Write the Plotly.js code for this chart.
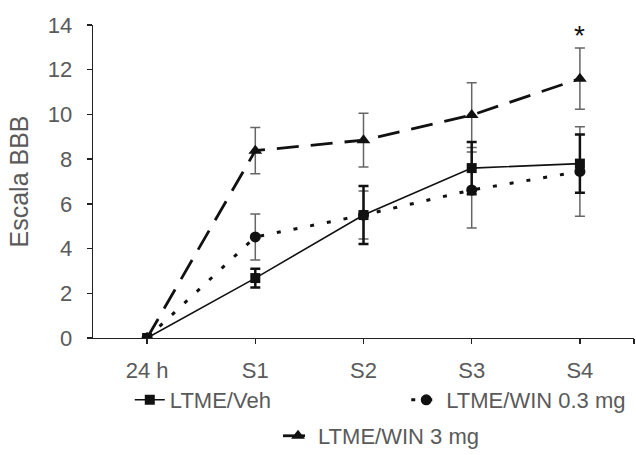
<!DOCTYPE html>
<html>
<head>
<meta charset="utf-8">
<script src="https://cdn.plot.ly/plotly-3.0.1.min.js"></script>
<style>html,body{margin:0;padding:0;background:#fff}#chart{width:636px;height:455px}</style>
</head>
<body>
<div id="chart"></div>
<script>
var categories = ['24 h', 'S1', 'S2', 'S3', 'S4'];
var xpos = [0, 1, 2, 3, 4];
var vehValues = [0, 2.68, 5.5, 7.6, 7.8];
var vehErrors = [0, 0.42, 1.3, 1.17, 1.3];
var win03Values = [0, 4.52, 5.5, 6.62, 7.45];
var win03Errors = [0, 1.03, 1.07, 1.7, 2.0];
var win3Values = [0, 8.38, 8.85, 9.97, 11.6];
var win3Errors = [0, 1.03, 1.2, 1.45, 1.37];

var FONT = '"Liberation Sans", Arial, Helvetica, sans-serif';
var TXT = '#5a5a5a';

var traces = [
  {
    x: xpos, y: win3Values, name: 'LTME/WIN 3 mg', type: 'scatter', mode: 'lines+markers',
    line: {color: '#111', width: 2.8, dash: '22px,12px'},
    marker: {symbol: 'triangle-up', size: 12, color: '#111'},
    error_y: {type: 'data', array: win3Errors, visible: true, color: '#666', thickness: 1.5, width: 5},
    legend: 'legend3'
  },
  {
    x: xpos, y: win03Values, name: 'LTME/WIN 0.3 mg', type: 'scatter', mode: 'lines+markers',
    line: {color: '#111', width: 3, dash: '4px,13px'},
    marker: {symbol: 'circle', size: 11, color: '#111'},
    error_y: {type: 'data', array: win03Errors, visible: true, color: '#666', thickness: 1.5, width: 5},
    legend: 'legend2'
  },
  {
    x: xpos, y: vehValues, name: 'LTME/Veh', type: 'scatter', mode: 'lines+markers',
    line: {color: '#111', width: 1.6},
    marker: {symbol: 'square', size: 10, color: '#111'},
    error_y: {type: 'data', array: vehErrors, visible: true, color: '#111', thickness: 2.5, width: 5},
    legend: 'legend'
  }
];

function leg(x, y) {
  return {orientation: 'h', x: x, xanchor: 'left', y: y, yanchor: 'middle',
          font: {family: FONT, color: TXT, size: 22}, bgcolor: 'rgba(0,0,0,0)', borderwidth: 0};
}

var layout = {
  width: 636, height: 455,
  margin: {l: 93, r: 2, t: 25, b: 117, autoexpand: false},
  paper_bgcolor: '#fff', plot_bgcolor: '#fff',
  font: {family: FONT, color: TXT, size: 22},
  showlegend: true,
  xaxis: {
    range: [-0.5, 4.5],
    tickmode: 'array', tickvals: [0, 1, 2, 3, 4, 4.5], ticktext: categories.concat(['']),
    showgrid: false, zeroline: false,
    showline: true, linecolor: '#222', linewidth: 1.3,
    ticks: 'outside', ticklen: 5, tickcolor: '#222', tickwidth: 1.3,
    tickfont: {family: FONT, color: TXT, size: 22},
    ticklabelstandoff: 7,
    fixedrange: true
  },
  yaxis: {
    range: [0, 14], tickvals: [0, 2, 4, 6, 8, 10, 12, 14],
    showgrid: false, zeroline: false,
    showline: true, linecolor: '#222', linewidth: 1.3,
    ticks: 'outside', ticklen: 5, tickcolor: '#222', tickwidth: 1.3,
    tickfont: {family: FONT, color: TXT, size: 22},
    ticklabelstandoff: 10,
    title: {text: 'Escala BBB', font: {family: FONT, color: TXT, size: 25}, standoff: 12},
    fixedrange: true
  },
  legend: leg(0.068, -0.198),
  legend2: leg(0.579, -0.198),
  legend3: leg(0.342, -0.313),
  annotations: [
    {x: 4, y: 13.55, xref: 'x', yref: 'y', text: '*', showarrow: false,
     font: {family: FONT, color: '#111', size: 28}}
  ]
};

Plotly.newPlot('chart', traces, layout, {displayModeBar: false, staticPlot: true});
</script>
</body>
</html>
